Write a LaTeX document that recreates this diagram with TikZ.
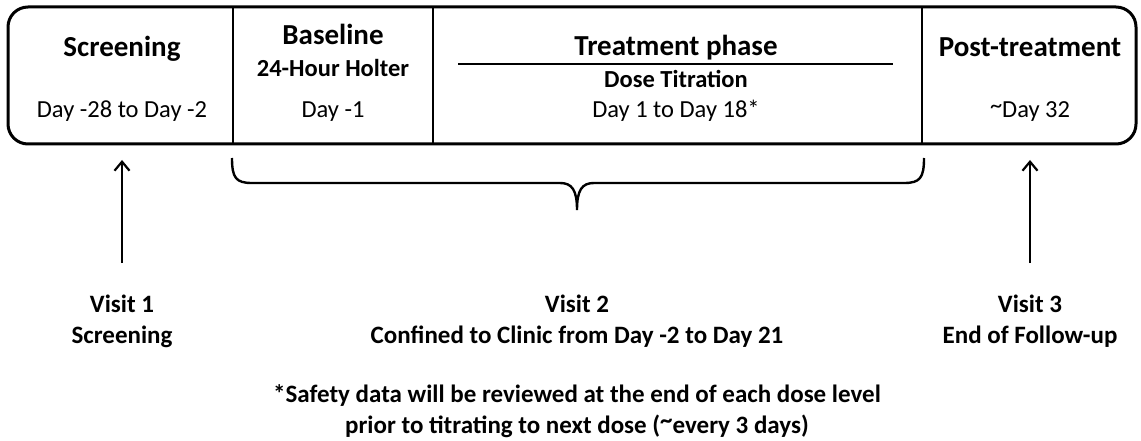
\documentclass[tikz,border=0pt]{standalone}
\usepackage{fontspec}
\setmainfont{Carlito}
\usetikzlibrary{arrows.meta}
\newcommand{\hitilde}{\raisebox{0.35ex}{\textasciitilde}}
\begin{document}
\begin{tikzpicture}[x=1pt,y=-1pt,
  hd/.style={font=\bfseries\fontsize{29}{32}\selectfont,inner sep=0pt,anchor=base},
  sub/.style={font=\bfseries\fontsize{24.5}{28}\selectfont,inner sep=0pt,anchor=base},
  dy/.style={font=\fontsize{24.5}{28}\selectfont,inner sep=0pt,anchor=base},
  lab/.style={font=\bfseries\fontsize{25}{28}\selectfont,inner sep=0pt,anchor=base},
  frame/.style={line width=3pt,rounded corners=20pt},
  div/.style={line width=2.4pt},
  up/.style={line width=2.2pt,-{Straight Barb[length=9pt,width=15pt,line width=2.2pt]}}]
\useasboundingbox (0,0) rectangle (1141,441);
% outer box
\draw[frame] (8,7) rectangle (1136,144);
\coordinate (d1t) at (233,7); \coordinate (d1b) at (233,144);
\coordinate (d2t) at (433,7); \coordinate (d2b) at (433,144);
\coordinate (d3t) at (922,7); \coordinate (d3b) at (922,144);
\draw[div] (d1t) -- (d1b);
\draw[div] (d2t) -- (d2b);
\draw[div] (d3t) -- (d3b);
% texts
\node[hd] (scr) at (122,57) {Screening};
\node[dy] (scrd) at (122,118) {Day -28 to Day -2};
\node[hd] (base) at (333,45) {Baseline};
\node[sub] (holt) at (333,77) {24-Hour Holter};
\node[dy] (based) at (333,118) {Day -1};
\node[hd] (trt) at (676,56) {Treatment phase};
\coordinate (hl1) at (458,64); \coordinate (hl2) at (893,64);
\draw[div] (hl1) -- (hl2);
\node[sub] (dose) at (676,88) {Dose Titration};
\node[dy] (trtd) at (676,118) {Day 1 to Day 18*};
\node[hd] (post) at (1030,57) {Post-treatment};
\node[dy] (postd) at (1030,118) {\hitilde Day 32};
% brace
\coordinate (bl) at (232,158); \coordinate (br) at (924,158); \coordinate (bm) at (577,210);
\draw[line width=2.4pt] (bl) .. controls (232,178) and (236,183) .. (252,183) -- (560,183)
  .. controls (572,183) and (577,190) .. (bm)
  .. controls (577,190) and (582,183) .. (594,183) -- (904,183)
  .. controls (920,183) and (924,178) .. (br);
% visit labels
\node[lab] (v1) at (122,312) {Visit 1};
\node[lab] (v1b) at (122,343) {Screening};
\node[lab] (v2) at (577,312) {Visit 2};
\node[lab] (v2b) at (577,343) {Confined to Clinic from Day -2 to Day 21};
\node[lab] (v3) at (1030,312) {Visit 3};
\node[lab] (v3b) at (1030,343) {End of Follow-up};
\coordinate (a1s) at (122,263); \coordinate (a1e) at (122,160);
\coordinate (a3s) at (1030,263); \coordinate (a3e) at (1030,160);
\draw[up] (a1s) -- (a1e);
\draw[up] (a3s) -- (a3e);
% footnote
\node[lab] (fn1) at (577,402) {*Safety data will be reviewed at the end of each dose level};
\node[lab] (fn2) at (577,433) {prior to titrating to next dose (\hitilde every 3 days)};
\end{tikzpicture}
\end{document}
